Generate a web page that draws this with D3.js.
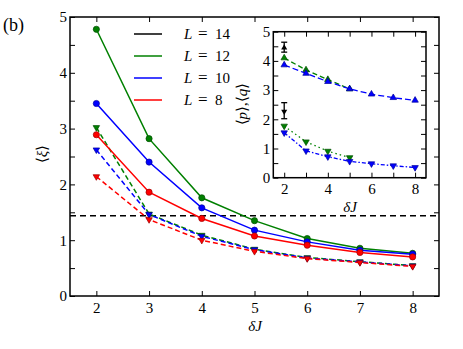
<!DOCTYPE html>
<html><head><meta charset="utf-8">
<script src="https://cdn.jsdelivr.net/npm/d3@7"></script>
<style>body{margin:0;background:#fff}</style></head>
<body>
<svg id="c" width="463" height="349" xmlns="http://www.w3.org/2000/svg"></svg>
<script>
// ---------- data ----------
const dJ = [2, 3, 4, 5, 6, 7, 8];
const legendLabels = ["14", "12", "10", "8"];
const legendColors = ["#000000", "#008000", "#0000ff", "#ff0000"];
// main plot, solid lines (circles)
const xiL12 = [4.78, 2.82, 1.76, 1.35, 1.03, 0.855, 0.765];
const xiL10 = [3.45, 2.40, 1.58, 1.18, 0.97, 0.82, 0.75];
const xiL8  = [2.89, 1.86, 1.39, 1.075, 0.91, 0.78, 0.70];
// main plot, dashed lines (down triangles)
const xiDashL12 = [3.02, 1.47, 1.09, 0.84, 0.69, 0.615, 0.545];
const xiDashL10 = [2.62, 1.46, 1.07, 0.83, 0.68, 0.61, 0.54];
const xiDashL8  = [2.14, 1.37, 1.00, 0.80, 0.67, 0.60, 0.53];
const hLine = 1.44;
// inset
const dJL12 = [2, 3, 4, 5];
const pL12 = [4.10, 3.69, 3.36, 3.04];
const pL10 = [3.86, 3.57, 3.29, 3.04, 2.86, 2.74, 2.65];
const qL12 = [1.77, 1.23, 0.91, 0.69];
const qL10 = [1.54, 0.92, 0.72, 0.56, 0.48, 0.41, 0.35];
const pL14 = {x: 2, v: 4.45, lo: 4.30, hi: 4.64};
const qL14 = {x: 2, v: 2.27, lo: 2.02, hi: 2.57};
const mainXTicks = [2, 3, 4, 5, 6, 7, 8];
const mainYTicks = [0, 0.5, 1, 1.5, 2, 2.5, 3, 3.5, 4, 4.5, 5];
const insetXTicks = [2, 3, 4, 5, 6, 7, 8];
const insetYTicks = [0, 0.5, 1, 1.5, 2, 2.5, 3, 3.5, 4, 4.5, 5];

// ---------- drawing ----------
const F = "Liberation Serif";
const svg = d3.select("#c");
const darker = {"#008000": "#004d00", "#0000ff": "#000099", "#ff0000": "#990000", "#000000": "#000"};

function drawAxes(g, x, y, L, R, T, B, xt, yt, xLab, fs, pad) {
  const fmtX = d => xLab(d) ? d3.format("d")(d) : "";
  const fmtY = d => Number.isInteger(d) ? d3.format("d")(d) : "";
  const style = sel => {
    sel.select(".domain").remove();
    sel.selectAll("line").attr("stroke", "#000").attr("stroke-width", 1);
    sel.selectAll("text").attr("font-family", F).attr("font-size", fs).attr("fill", "#000");
  };
  g.append("g").attr("transform", `translate(0,${B})`)
    .call(d3.axisBottom(x).tickValues(xt).tickSizeInner(-5).tickSizeOuter(0).tickPadding(pad).tickFormat(fmtX)).call(style);
  g.append("g").attr("transform", `translate(0,${T})`)
    .call(d3.axisTop(x).tickValues(xt).tickSizeInner(-5).tickSizeOuter(0).tickFormat("")).call(style);
  g.append("g").attr("transform", `translate(${L},0)`)
    .call(d3.axisLeft(y).tickValues(yt).tickSizeInner(-5).tickSizeOuter(0).tickPadding(3).tickFormat(fmtY)).call(style);
  g.append("g").attr("transform", `translate(${R},0)`)
    .call(d3.axisRight(y).tickValues(yt).tickSizeInner(-5).tickSizeOuter(0).tickFormat("")).call(style);
}

function series(g, x, y, xs, vals, color, dash, marker, lw, ms) {
  const line = d3.line().x((d, i) => x(xs[i])).y(d => y(d));
  g.append("path").attr("d", line(vals)).attr("fill", "none")
    .attr("stroke", color).attr("stroke-width", lw).attr("stroke-dasharray", dash);
  const m = g.append("g");
  vals.forEach((v, i) => {
    if (marker === "circle") {
      m.append("circle").attr("cx", x(xs[i])).attr("cy", y(v)).attr("r", 3.1)
        .attr("fill", color).attr("stroke", darker[color]).attr("stroke-width", 0.7);
    } else {
      const rot = marker === "down" ? 180 : 0;
      m.append("path").attr("d", d3.symbol(d3.symbolTriangle, ms)())
        .attr("transform", `translate(${x(xs[i])},${y(v)}) rotate(${rot})`)
        .attr("fill", color).attr("stroke", darker[color]).attr("stroke-width", 0.7);
    }
  });
}

// ----- main axes -----
const mL = 70, mR = 439, mT = 17, mB = 296;
const x = d3.scaleLinear([1.5, 8.5], [mL, mR]);
const y = d3.scaleLinear([0, 5], [mB, mT]);
const main = svg.append("g");
drawAxes(main, x, y, mL, mR, mT, mB, mainXTicks, mainYTicks, d => true, 15, 6);

// horizontal dashed line
main.append("line").attr("x1", mL).attr("x2", mR).attr("y1", y(hLine)).attr("y2", y(hLine))
  .attr("stroke", "#000").attr("stroke-width", 1.5).attr("stroke-dasharray", "6,4");

series(main, x, y, dJ, xiL12, "#008000", null, "circle", 1.5);
series(main, x, y, dJ, xiDashL12, "#008000", "5,3", "down", 1.5, 18);
series(main, x, y, dJ, xiL10, "#0000ff", null, "circle", 1.5);
series(main, x, y, dJ, xiDashL10, "#0000ff", "5,3", "down", 1.5, 18);
series(main, x, y, dJ, xiL8, "#ff0000", null, "circle", 1.5);
series(main, x, y, dJ, xiDashL8, "#ff0000", "5,3", "down", 1.5, 18);

main.append("rect").attr("x", mL).attr("y", mT).attr("width", mR - mL).attr("height", mB - mT)
  .attr("fill", "none").attr("stroke", "#000").attr("stroke-width", 1.5);

// axis labels
main.append("text").attr("x", 255).attr("y", 331).attr("text-anchor", "middle")
  .attr("font-family", F).attr("font-size", 15).attr("font-style", "italic").text("δJ");
const yl = main.append("text").attr("transform", "translate(47,154) rotate(-90)").attr("text-anchor", "middle")
  .attr("font-family", F).attr("font-size", 15);
yl.append("tspan").text("⟨");
yl.append("tspan").text("ξ").attr("font-style", "italic");
yl.append("tspan").text("⟩");

svg.append("text").attr("x", 3).attr("y", 31).attr("font-family", F).attr("font-size", 18).text("(b)");

// legend
legendLabels.forEach((lab, i) => {
  const yy = [34, 56, 78, 100][i];
  svg.append("line").attr("x1", 134).attr("x2", 162).attr("y1", yy).attr("y2", yy)
    .attr("stroke", legendColors[i]).attr("stroke-width", 1.5);
  svg.append("text").attr("x", 184).attr("y", yy + 5).attr("font-family", F).attr("font-size", 15)
    .attr("font-style", "italic").text("L");
  svg.append("text").attr("x", 198).attr("y", yy + 5).attr("font-family", F).attr("font-size", 17).text("=");
  svg.append("text").attr("x", 215).attr("y", yy + 5).attr("font-family", F).attr("font-size", 15).text(lab);
});

// ----- inset -----
const iL = 273.3, iR = 426, iT = 31.7, iB = 177.7;
const xi = d3.scaleLinear([1.5, 8.5], [iL, iR]);
const yi = d3.scaleLinear([0, 5], [iB, iT]);
const ins = svg.append("g");
ins.append("rect").attr("x", iL).attr("y", iT).attr("width", iR - iL).attr("height", iB - iT).attr("fill", "#fff");
drawAxes(ins, xi, yi, iL, iR, iT, iB, insetXTicks, insetYTicks, d => d % 2 === 0, 15, 6);

series(ins, xi, yi, dJL12, pL12, "#008000", "5,3", "up", 1.3, 18);
series(ins, xi, yi, dJ, pL10, "#0000ff", "6,3", "up", 1.3, 18);
series(ins, xi, yi, dJL12, qL12, "#008000", "1.5,3", "down", 1.3, 18);
series(ins, xi, yi, dJ, qL10, "#0000ff", "4,2,1.5,2", "down", 1.3, 18);

[[pL14, "up"], [qL14, "down"]].forEach(([p, mk]) => {
  const cx = xi(p.x);
  ins.append("line").attr("x1", cx).attr("x2", cx).attr("y1", yi(p.lo)).attr("y2", yi(p.hi))
    .attr("stroke", "#000").attr("stroke-width", 1.3);
  [p.lo, p.hi].forEach(v => ins.append("line").attr("x1", cx - 3).attr("x2", cx + 3)
    .attr("y1", yi(v)).attr("y2", yi(v)).attr("stroke", "#000").attr("stroke-width", 1.3));
  ins.append("path").attr("d", d3.symbol(d3.symbolTriangle, 16)())
    .attr("transform", `translate(${cx},${yi(p.v)}) rotate(${mk === "down" ? 180 : 0})`).attr("fill", "#000");
});

ins.append("rect").attr("x", iL).attr("y", iT).attr("width", iR - iL).attr("height", iB - iT)
  .attr("fill", "none").attr("stroke", "#000").attr("stroke-width", 1.5);

ins.append("text").attr("x", 350).attr("y", 212).attr("text-anchor", "middle")
  .attr("font-family", F).attr("font-size", 15).attr("font-style", "italic").text("δJ");
const iyl = ins.append("text").attr("transform", "translate(247,104) rotate(-90)").attr("text-anchor", "middle")
  .attr("font-family", F).attr("font-size", 15);
iyl.append("tspan").text("⟨");
iyl.append("tspan").text("p").attr("font-style", "italic");
iyl.append("tspan").text("⟩,⟨");
iyl.append("tspan").text("q").attr("font-style", "italic");
iyl.append("tspan").text("⟩");
</script>
</body></html>
